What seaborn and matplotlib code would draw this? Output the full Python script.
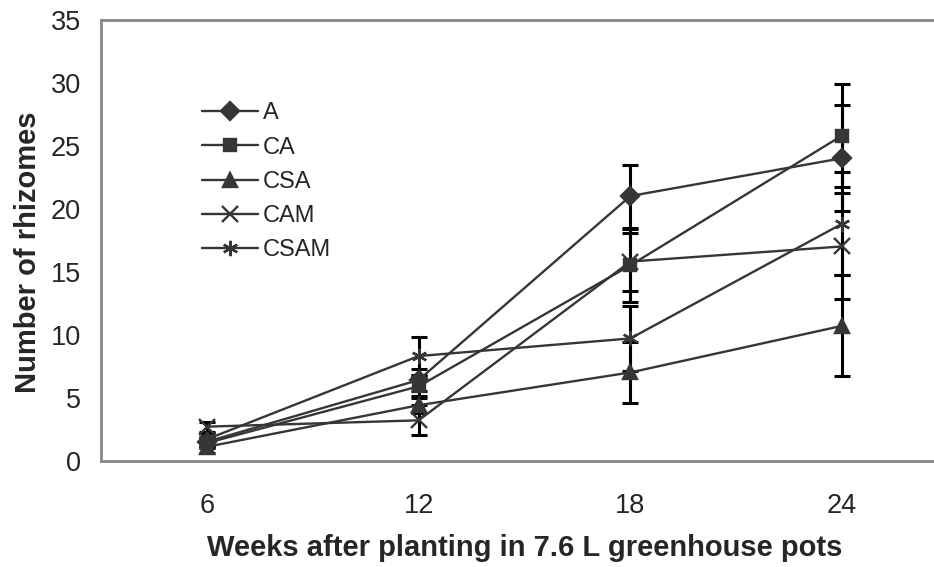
import pandas as pd
import numpy as np
import matplotlib.pyplot as plt
import seaborn as sns

# weeks after planting (categorical x axis)
weeks = ["6", "12", "18", "24"]
treatments = ["A", "CA", "CSA", "CAM", "CSAM"]

# mean number of rhizomes
a_vals = [1.5, 6.4, 21.0, 24.0]
ca_vals = [1.4, 5.9, 15.5, 25.8]
csa_vals = [1.1, 4.4, 7.0, 10.7]
cam_vals = [2.7, 3.2, 15.8, 17.0]
csam_vals = [1.7, 8.3, 9.7, 18.8]

# error bar half-widths
a_err = [0.4, 0.9, 2.5, 4.2]
ca_err = [0.4, 0.8, 2.9, 4.1]
csa_err = [0.5, 0.6, 2.4, 4.0]
cam_err = [0.4, 1.2, 2.3, 4.2]
csam_err = [0.5, 1.5, 2.6, 4.1]

vals = {"A": a_vals, "CA": ca_vals, "CSA": csa_vals, "CAM": cam_vals, "CSAM": csam_vals}
errs = {"A": a_err, "CA": ca_err, "CSA": csa_err, "CAM": cam_err, "CSAM": csam_err}

rows = []
for t in treatments:
    for i, w in enumerate(weeks):
        rows.append({"treatment": t, "pos": i, "week": w, "value": vals[t][i], "err": errs[t][i]})
df = pd.DataFrame(rows)

sns.set_style("white")
plt.rcParams['font.family'] = ['Liberation Sans', 'DejaVu Sans']

line_col = '#363636'
markers = {"A": "D", "CA": "s", "CSA": "^", "CAM": "x", "CSAM": (6, 2, 0)}
msizes = {"A": 9, "CA": 8.5, "CSA": 10, "CAM": 11, "CSAM": 11}

fig = plt.figure(figsize=(9.34, 5.67), dpi=100)
ax = fig.add_axes([0.1081, 0.1875, 0.9069, 0.778])

# error bars first, so markers sit on top
for t in treatments:
    sub = df[df.treatment == t]
    ax.errorbar(sub["pos"], sub["value"], yerr=sub["err"], fmt='none', ecolor='black',
                elinewidth=2.2, capsize=6, capthick=2.2, zorder=1.9)

for t in treatments:
    sub = df[df.treatment == t]
    sns.lineplot(data=sub, x="pos", y="value", color=line_col, marker=markers[t],
                 markersize=msizes[t], markeredgecolor=line_col, markeredgewidth=1.7,
                 linewidth=1.7, label=t, ax=ax, zorder=3)

ax.set_xlim(-0.5, 3.5)
ax.set_ylim(0, 35)
ax.set_yticks(np.arange(0, 36, 5))
ax.set_xticks(range(len(weeks)))
ax.set_xticklabels(weeks)
ax.set_xticks(np.arange(-0.5, 4.0, 1.0), minor=True)
ax.tick_params(axis='x', which='major', length=0, pad=23, labelsize=19.5)
ax.tick_params(axis='x', which='minor', length=7.5, width=1.0, color='#444444', direction='out')
ax.tick_params(axis='y', length=7.5, width=1.0, color='#444444', direction='out', pad=7, labelsize=19.5)

for side in ['left', 'bottom', 'top']:
    ax.spines[side].set_color('#888888')
    ax.spines[side].set_linewidth(2.0)
ax.spines['right'].set_visible(False)

ax.set_xlabel("Weeks after planting in 7.6 L greenhouse pots", fontsize=21, fontweight='bold')
ax.xaxis.set_label_coords(0.5, -0.198)
ax.xaxis.label.set_va('center')
ax.set_ylabel("Number of rhizomes", fontsize=21, fontweight='bold')
ax.yaxis.set_label_coords(-0.086, 0.473)
ax.yaxis.label.set_va('center')

handles, labels = ax.get_legend_handles_labels()
ax.legend(handles, labels, loc='upper left', bbox_to_anchor=(0.108, 0.834), frameon=False,
          fontsize=17, handlelength=2.37, labelspacing=0.52, handletextpad=0.2,
          borderaxespad=0)

fig.savefig("out.png", dpi=100)
